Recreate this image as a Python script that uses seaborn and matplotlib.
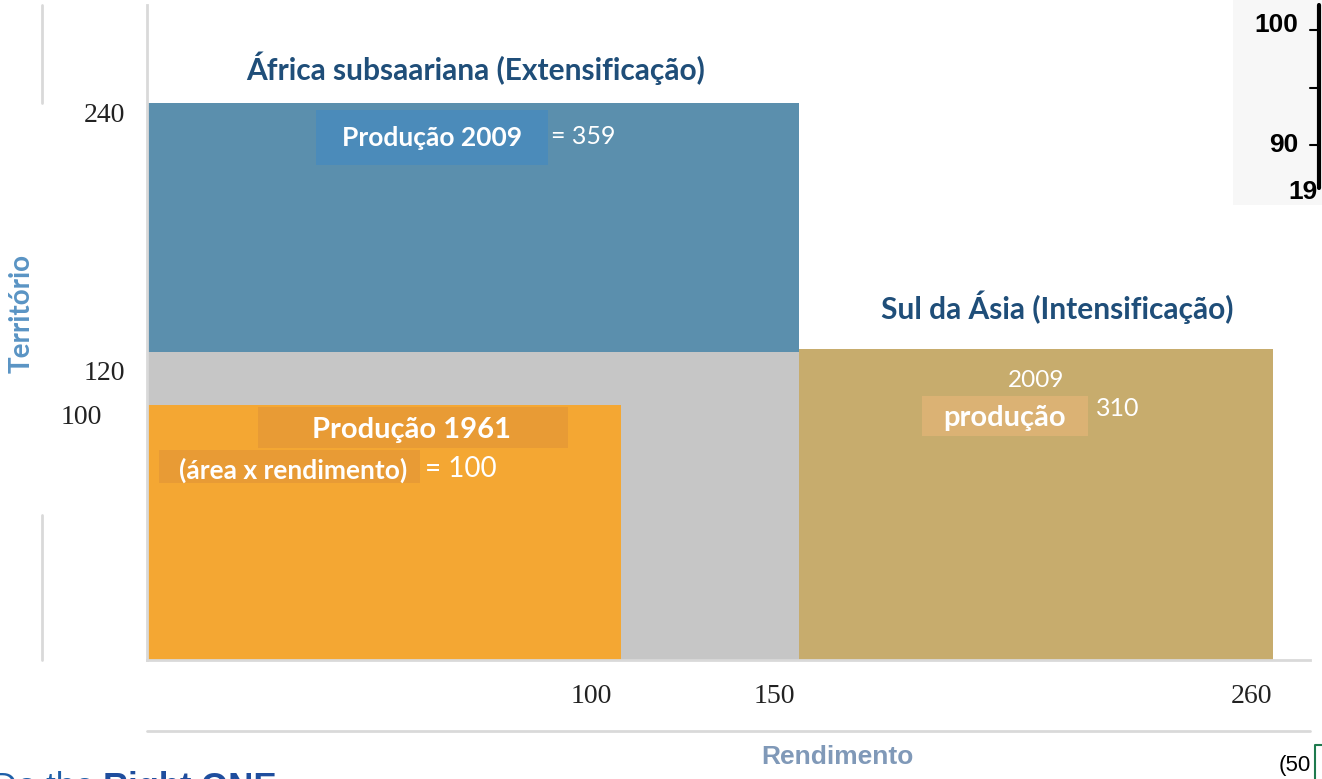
import numpy as np
import pandas as pd
import seaborn as sns
import matplotlib.pyplot as plt
from matplotlib.patches import Rectangle
from matplotlib.lines import Line2D
from matplotlib.transforms import ScaledTranslation

# schematic "area x yield" blocks (units as drawn in the original diagram)
block_names = ['fundo', 'Sul da Ásia 2009', 'África subsaariana 2009', 'Produção 1961']
block_x = [0, 137.6, 0, 0]
block_width = [137.6, 100, 137.6, 100]
block_bottom = [0, 0, 120.8, 0]
block_height = [120.8, 122, 97.6, 100]
block_colors = ['#c6c6c6', '#c7ac6d', '#5b8fad', '#f4a733']

x_tick_pos = [100, 137.6, 237.6]
x_tick_labels = ['100', '150', '260']
y_tick_pos = [100, 120.8, 218.4]
y_tick_labels = ['100', '120', '240']

producao = {'1961': 100, 'ssa_2009': 359, 'sa_2009': 310}

W, H = 1322, 779
sns.set_theme(style='white')
plt.rcParams['font.family'] = ['Lato', 'DejaVu Sans']

fig = plt.figure(figsize=(W / 100, H / 100), dpi=100)
ax = fig.add_axes([147 / W, 119 / H, (1310 - 147) / W, (774 - 119) / H])

df = pd.DataFrame({'name': block_names, 'x': block_x, 'w': block_width,
                   'b': block_bottom, 'h': block_height, 'c': block_colors})
ax.bar(df['x'], df['h'], width=df['w'], bottom=df['b'], align='edge',
       color=df['c'], linewidth=0)
ax.set_xlim(0, 245.4)
ax.set_ylim(0, 256.9)

tick_font = dict(family='Liberation Serif', size=20, color='#222222')
ax.set_xticks(x_tick_pos)
ax.set_xticklabels(x_tick_labels, ha='right', **tick_font)
ax.set_yticks(y_tick_pos)
ax.set_yticklabels(y_tick_labels, va='top', **tick_font)
ax.tick_params(axis='x', length=0, pad=17)
ax.tick_params(axis='y', length=0, pad=16)
for lab, dx in zip(ax.get_xticklabels(), [-0.09, -0.04, -0.01]):
    lab.set_transform(lab.get_transform() + ScaledTranslation(dx, 0, fig.dpi_scale_trans))
ylabs = ax.get_yticklabels()
ylabs[0].set_transform(ylabs[0].get_transform() + ScaledTranslation(-0.23, 0, fig.dpi_scale_trans))
ylabs[1].set_transform(ylabs[1].get_transform() + ScaledTranslation(0, -0.09, fig.dpi_scale_trans))

sns.despine(ax=ax, top=True, right=True)
for s in ['left', 'bottom']:
    ax.spines[s].set_color('#d9d9d9')
    ax.spines[s].set_linewidth(2)

# label boxes inside the blocks
ax.add_patch(Rectangle((35.7, 194.1), 48.9, 21.6, color='#4b8bba', lw=0))
ax.add_patch(Rectangle((23.4, 83.1), 65.4, 16.1, color='#e89b35', lw=0))
ax.add_patch(Rectangle((2.5, 69.4), 55.1, 13.0, color='#e89b35', lw=0))
ax.add_patch(Rectangle((163.5, 87.8), 35.0, 15.7, color='#dbb274', lw=0))

ax.text(60.1, 204.7, 'Produção 2009', ha='center', va='center', color='white',
        fontsize=19, fontweight='bold')
ax.text(85.2, 205.5, f"= {producao['ssa_2009']}", ha='left', va='center', color='white', fontsize=18)
ax.text(55.9, 90.2, 'Produção 1961', ha='center', va='center', color='white',
        fontsize=21, fontweight='bold')
ax.text(30.8, 74.3, '(área x rendimento)', ha='center', va='center', color='white',
        fontsize=19, fontweight='bold')
ax.text(58.6, 75.0, f"= {producao['1961']}", ha='left', va='center', color='white', fontsize=20)
ax.text(187.6, 109.8, '2009', ha='center', va='center', color='white', fontsize=17.5)
ax.text(181.0, 94.9, 'produção', ha='center', va='center', color='white',
        fontsize=21, fontweight='bold')
ax.text(200.2, 98.5, f"{producao['sa_2009']}", ha='left', va='center', color='white', fontsize=18)

# region titles
ax.text(69.4, 232.2, 'África subsaariana (Extensificação)', ha='center', va='center',
        color='#1f4e79', fontsize=21.5, fontweight='bold')
ax.text(192.0, 138.4, 'Sul da Ásia (Intensificação)', ha='center', va='center',
        color='#1f4e79', fontsize=21.5, fontweight='bold')

# axis titles
fig.text(22 / W, 1 - 313 / H, 'Território', rotation=90, ha='center', va='center',
         color='#5a94c4', fontsize=20, fontweight='bold')
fig.text(837 / W, 1 - 757 / H, 'Rendimento', ha='center', va='center',
         color='#8099b8', fontsize=19, fontweight='bold', family='Liberation Sans')

# extra light frame lines
gl = dict(color='#d9d9d9', lw=2, transform=fig.transFigure)
fig.add_artist(Line2D([147 / W, 1310 / W], [1 - 731 / H] * 2, **gl))
fig.add_artist(Line2D([42 / W] * 2, [1 - 5 / H, 1 - 103 / H], **gl))
fig.add_artist(Line2D([42 / W] * 2, [1 - 515 / H, 1 - 660 / H], **gl))

# fragments of neighbouring content at the edges
fig.add_artist(Rectangle((1233 / W, 1 - 205 / H), 89 / W, 205 / H, color='#f7f7f7',
                         lw=0, transform=fig.transFigure))
fig.add_artist(Line2D([1319 / W] * 2, [1 - 5 / H, 1 - 188 / H], color='black', lw=3,
                      transform=fig.transFigure))
for py in [30, 88, 145]:
    fig.add_artist(Line2D([1310 / W, 1319 / W], [1 - py / H] * 2, color='black', lw=1.5,
                          transform=fig.transFigure))
frag = dict(family='Liberation Sans', fontweight='bold', color='black', fontsize=19)
fig.text(1298 / W, 1 - 25 / H, '100', ha='right', va='center', **frag)
fig.text(1298 / W, 1 - 145 / H, '90', ha='right', va='center', **frag)
fig.text(1288 / W, 1 - 192 / H, '19', ha='left', va='center', **frag)

fig.text(1279 / W, 1 - 765 / H, '(50', ha='left', va='center', color='black',
         fontsize=16, family='Liberation Sans')
fig.add_artist(Line2D([1315 / W, 1315 / W, 1322 / W], [0, 1 - 745 / H, 1 - 745 / H],
                      color='#1e7a4e', lw=1.5, transform=fig.transFigure))
fig.text(-0.006, 1 - 771 / H, 'Do the ', ha='left', va='top', color='#1f5fa8',
         fontsize=25, family='Liberation Sans')
fig.text(103 / W, 1 - 771 / H, 'Right ONE', ha='left', va='top', color='#1f4e9e',
         fontsize=25, fontweight='bold', family='Liberation Sans')

fig.savefig('out.png', dpi=100)
